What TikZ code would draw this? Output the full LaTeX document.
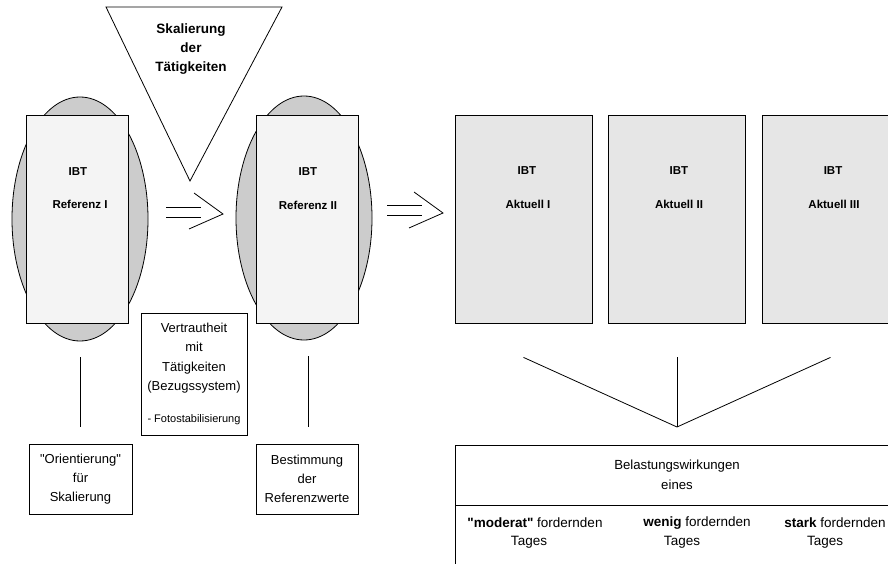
\documentclass[tikz,border=0pt]{standalone}
\usepackage{fontspec}
\setmainfont{Liberation Sans}
% same face without the TeX mapping, so " stays a straight quote
\newfontfamily\dqfont{Liberation Sans}
\usetikzlibrary{shapes.geometric}
\definecolor{ovalgray}{RGB}{204,204,204}
\definecolor{refpaper}{RGB}{244,244,244}
\definecolor{curpaper}{RGB}{230,230,230}
\newcommand{\sq}{{\dqfont"}}
\begin{document}
\begin{tikzpicture}[x=1pt,y=-1pt,line width=0.8pt,
  oval/.style={ellipse,draw,fill=ovalgray,minimum width=136pt,minimum height=244pt,inner sep=0pt},
  refsheet/.style={rectangle,draw,fill=refpaper,minimum width=102pt,minimum height=208pt,inner sep=0pt},
  cursheet/.style={rectangle,draw,fill=curpaper,minimum width=137pt,minimum height=208pt,inner sep=0pt},
  sheetlbl/.style={font=\fontsize{11.5}{14}\selectfont\bfseries,inner sep=0pt},
  notebox/.style={rectangle,draw,fill=white,align=center,inner sep=0pt,font=\fontsize{13}{19.3}\selectfont},
  plain/.style={align=center,inner sep=0pt,font=\fontsize{13.2}{20}\selectfont},
  coltext/.style={inner sep=0pt,font=\fontsize{13.5}{19}\selectfont}]
\useasboundingbox (0,0) rectangle (888,564);
\clip (0,0) rectangle (888,564);

% scaling triangle
\coordinate (tl) at (106,7);
\coordinate (tr) at (282,7);
\coordinate (tapex) at (190,181);
\draw[fill=white] (tl) -- (tr) -- (tapex) -- cycle;
\node[align=center,inner sep=0pt,font=\fontsize{13.5}{19}\selectfont\bfseries] (skal) at (191,49) {Skalierung\\der\\Tätigkeiten};

% reference sheets on their ovals
\node[oval] (ov1) at (80,219) {};
\node[refsheet] (ref1) at (77,219) {};
\node[sheetlbl] (ref1a) at (78,172) {IBT};
\node[sheetlbl] (ref1b) at (80,204) {Referenz I};

\node[oval] (ov2) at (304,218) {};
\node[refsheet] (ref2) at (307,219) {};
\node[sheetlbl] (ref2a) at (308,172) {IBT};
\node[sheetlbl] (ref2b) at (308,205) {Referenz II};

% current sheets
\node[cursheet] (cur1) at (523.5,219) {};
\node[sheetlbl] (cur1a) at (527,171) {IBT};
\node[sheetlbl] (cur1b) at (528,204) {Aktuell I};
\node[cursheet] (cur2) at (677,219) {};
\node[sheetlbl] (cur2a) at (679,171) {IBT};
\node[sheetlbl] (cur2b) at (679,204) {Aktuell II};
\node[cursheet] (cur3) at (830.5,219) {};
\node[sheetlbl] (cur3a) at (833,171) {IBT};
\node[sheetlbl] (cur3b) at (834,204) {Aktuell III};

% double-line arrows
\coordinate (a1s1) at (166,207); \coordinate (a1e1) at (201,207);
\coordinate (a1s2) at (166,217); \coordinate (a1e2) at (201,217);
\coordinate (a1t) at (194,193); \coordinate (a1p) at (223,214); \coordinate (a1b) at (189,229);
\draw (a1s1) -- (a1e1);
\draw (a1s2) -- (a1e2);
\draw (a1t) -- (a1p) -- (a1b);

\coordinate (a2s1) at (387,205); \coordinate (a2e1) at (422,205);
\coordinate (a2s2) at (387,215); \coordinate (a2e2) at (422,215);
\coordinate (a2t) at (414,192); \coordinate (a2p) at (443,213); \coordinate (a2b) at (409,228);
\draw (a2s1) -- (a2e1);
\draw (a2s2) -- (a2e2);
\draw (a2t) -- (a2p) -- (a2b);

% note boxes
\node[notebox,minimum width=106pt,minimum height=122pt] (vert) at (194,374)
  {Vertrautheit\\mit\\Tätigkeiten\\(Bezugssystem)\\[13pt]{\fontsize{11}{13}\selectfont - Fotostabilisierung}};
\node[notebox,minimum width=103pt,minimum height=70pt] (orient) at (80.5,479)
  {\sq Orientierung\sq\\für\\Skalierung};
\node[notebox,minimum width=102pt,minimum height=70pt] (bestimm) at (307,479)
  {Bestimmung\\der\\Referenzwerte};

% links from ovals to note boxes
\coordinate (l1a) at ([yshift=-16pt]ov1.south);
\coordinate (l1b) at ([yshift=17pt]orient.north -| ov1.south);
\draw (l1a) -- (l1b);
\coordinate (l2a) at ([xshift=4pt,yshift=-16pt]ov2.south);
\coordinate (l2b) at ([yshift=17pt]bestimm.north -| l2a);
\draw (l2a) -- (l2b);

% effects table
\node[rectangle,draw,fill=white,anchor=north west,minimum width=460pt,minimum height=160pt,inner sep=0pt] (eff) at (455,445) {};
\coordinate (dvl) at (455,505);
\coordinate (dvr) at (915,505);
\draw (dvl) -- (dvr);
\node[plain] (effh) at (677,475) {Belastungswirkungen\\eines};
\node[coltext,anchor=west] (c1a) at (467,523) {\textbf{\sq moderat\sq} fordernden};
\node[coltext] (c1b) at (529,542) {Tages};
\node[coltext] (c2a) at (697,523) {\textbf{wenig} fordernden};
\node[coltext] (c2b) at (682,542) {Tages};
\node[coltext,anchor=east] (c3a) at (886,523) {\textbf{stark} fordernden};
\node[coltext] (c3b) at (825,542) {Tages};

% fan from current sheets into the table
\coordinate (fm) at (677,427);
\coordinate (f1) at ([yshift=-34pt]cur1.south);
\coordinate (f2) at ([yshift=-34pt]cur2.south);
\coordinate (f3) at ([yshift=-34pt]cur3.south);
\draw (f1) -- (fm);
\draw (f2) -- (fm);
\draw (f3) -- (fm);
\end{tikzpicture}
\end{document}
